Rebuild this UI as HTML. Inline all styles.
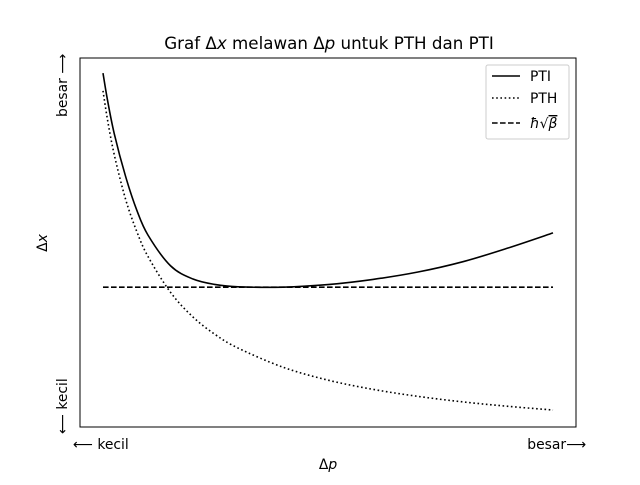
<!DOCTYPE html>
<html><head><meta charset="utf-8"><style>
body{margin:0;background:#fff}
svg text{font-family:"DejaVu Sans","Liberation Sans",sans-serif;fill:#000}
</style></head><body>
<svg id="chart" width="640" height="480" viewBox="0 0 640 480" xmlns="http://www.w3.org/2000/svg">
<rect width="640" height="480" fill="#fff"/>
<text x="329" y="49" font-size="16.7" text-anchor="middle">Graf Δ<tspan font-style="italic">x</tspan> melawan Δ<tspan font-style="italic">p</tspan> untuk PTH dan PTI</text>
<g id="plot"></g>
<rect x="80" y="58" width="496" height="369" fill="none" stroke="#000" stroke-width="1"/>
<text x="73" y="449" font-size="13.9">⟵ kecil</text>
<text x="586" y="449" font-size="13.9" text-anchor="end">besar⟶</text>
<text x="328" y="469" font-size="13.9" text-anchor="middle">Δ<tspan font-style="italic">p</tspan></text>
<text transform="translate(67,434) rotate(-90)" font-size="13.9">⟵ kecil</text>
<text transform="translate(67,117) rotate(-90)" font-size="13.9">besar ⟶</text>
<text transform="translate(47,243) rotate(-90)" font-size="13.9" text-anchor="middle">Δ<tspan font-style="italic">x</tspan></text>
<g>
<rect x="486" y="65" width="83" height="74" fill="#fff" fill-opacity="0.8" stroke="#ccc" rx="2"/>
<line x1="492" y1="76" x2="520" y2="76" stroke="#000" stroke-width="1.6"/>
<text x="530" y="81" font-size="13.9">PTI</text>
<line x1="492" y1="98" x2="520" y2="98" stroke="#000" stroke-width="1.6" stroke-dasharray="1.6,2.6"/>
<text x="530" y="103" font-size="13.9">PTH</text>
<line x1="492" y1="123" x2="520" y2="123" stroke="#000" stroke-width="1.6" stroke-dasharray="5.6,2.4"/>
<text x="530" y="128" font-size="13.9"><tspan font-style="italic">ħ</tspan>√<tspan font-style="italic" text-decoration="overline">β</tspan></text>
</g>
</svg>
<script>
const pValues = [0,0.1,0.25,0.5,0.75,1,1.5,2,2.5,3,4,5,6,7,8,9,10];
const ptiValues = [9.59,8.86,7.95,6.80,5.88,5.20,4.37,4.01,3.86,3.80,3.79,3.86,4.00,4.20,4.48,4.85,5.26];
const pthValues = [9.11,8.33,7.38,6.18,5.30,4.62,3.65,2.98,2.50,2.14,1.62,1.27,1.02,0.83,0.68,0.56,0.46];
const boundValue = 3.79;
const xDomain=[-0.511,10.511], yDomain=[0,10];
function sx(v){return 80+(v-xDomain[0])/(xDomain[1]-xDomain[0])*496;}
function sy(v){return 427-(v-yDomain[0])/(yDomain[1]-yDomain[0])*369;}
const NS="http://www.w3.org/2000/svg";
const plot=document.getElementById('plot');
function smoothPath(xs,ys){
  const pts=xs.map((x,i)=>[sx(x),sy(ys[i])]);
  let d="M"+pts[0][0]+","+pts[0][1];
  for(let i=0;i<pts.length-1;i++){
    const p0=pts[Math.max(0,i-1)],p1=pts[i],p2=pts[i+1],p3=pts[Math.min(pts.length-1,i+2)];
    const c1=[p1[0]+(p2[0]-p0[0])/6,p1[1]+(p2[1]-p0[1])/6];
    const c2=[p2[0]-(p3[0]-p1[0])/6,p2[1]-(p3[1]-p1[1])/6];
    d+=" C"+c1+" "+c2+" "+p2;
  }
  return d;
}
function addPath(d,dash,name){
  const el=document.createElementNS(NS,'path');
  el.setAttribute('d',d);el.setAttribute('fill','none');el.setAttribute('stroke','#000');
  el.setAttribute('stroke-width','1.6');
  if(dash)el.setAttribute('stroke-dasharray',dash);
  
  
  plot.appendChild(el);
}
addPath(smoothPath(pValues,ptiValues),null,'pti-line');
addPath(smoothPath(pValues,pthValues),'1.6,2.6','pth-line');
const p0=pValues[0],p1=pValues[pValues.length-1];
addPath("M"+sx(p0)+","+sy(boundValue)+" L"+sx(p1)+","+sy(boundValue),'5.6,2.4','bound-line');
</script>
</body></html>
